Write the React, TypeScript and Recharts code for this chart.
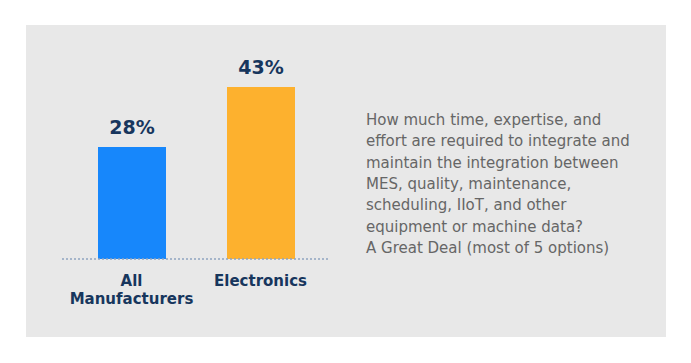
import React from 'react';
import { BarChart, Bar, XAxis, YAxis, Cell, LabelList } from 'recharts';

const categories = ['All\nManufacturers', 'Electronics'];
const values = [28, 43];
const colors = ['#1787fb', '#fdb12e'];
const noteLines = [
  'How much time, expertise, and',
  'effort are required to integrate and',
  'maintain the integration between',
  'MES, quality, maintenance,',
  'scheduling, IIoT, and other',
  'equipment or machine data?',
  'A Great Deal (most of 5 options)',
];

const data = categories.map((c, i) => ({ name: c, value: values[i] }));

const FONT = '"DejaVu Sans", Verdana, sans-serif';
const NAVY = '#17365d';

const Tick = (props: any) => {
  const { x, y, payload } = props;
  const lines = String(payload.value).split('\n');
  return (
    <text x={x} y={y} textAnchor="middle" fill={NAVY} fontFamily={FONT} fontWeight="bold" fontSize={15}>
      {lines.map((l, i) => (
        <tspan key={i} x={x} dy={i === 0 ? 27 : 17.5}>{l}</tspan>
      ))}
    </text>
  );
};

export default function App() {
  return (
    <div style={{ position: 'relative', width: 691, height: 363, margin: -8, background: '#ffffff', overflow: 'hidden' }}>
      <div style={{ position: 'absolute', left: 26, top: 25, width: 640, height: 312, background: '#e8e8e8' }} />
      <div style={{ position: 'absolute', left: 0, top: 0 }}>
        <BarChart width={691} height={363} data={data} margin={{ top: 59, right: 361, bottom: 44, left: 62 }}>
          <YAxis hide domain={[0, 50]} />
          <XAxis
            dataKey="name"
            height={60}
            padding={{ left: 5, right: 5 }}
            tickLine={false}
            tickSize={0}
            tickMargin={0}
            interval={0}
            axisLine={{ stroke: '#8fa4c0', strokeDasharray: '2 2', strokeWidth: 1.5 }}
            tick={<Tick />}
          />
          <Bar dataKey="value" barSize={68} isAnimationActive={false}>
            {data.map((d, i) => (
              <Cell key={i} fill={colors[i]} />
            ))}
            <LabelList
              dataKey="value"
              position="top"
              offset={13}
              formatter={(v: any) => `${v}%`}
              fill={NAVY}
              fontFamily={FONT}
              fontWeight="bold"
              fontSize={19}
            />
          </Bar>
        </BarChart>
      </div>
      <svg width={691} height={363} style={{ position: 'absolute', left: 0, top: 0, pointerEvents: 'none' }}>
        {noteLines.map((l, i) => (
          <text key={i} x={366} y={125 + i * 21.3} fill="#666666" fontFamily={FONT} fontSize={15}>
            {l}
          </text>
        ))}
      </svg>
    </div>
  );
}
